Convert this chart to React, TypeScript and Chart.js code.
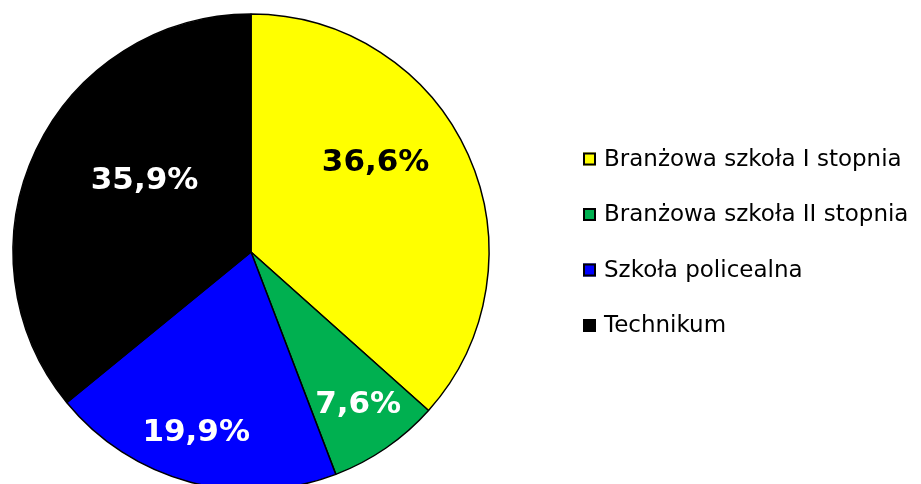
import React, { useEffect, useRef } from "react";
import { Chart, registerables } from "chart.js";

Chart.register(...registerables);

const categories = [
  "Branżowa szkoła I stopnia",
  "Branżowa szkoła II stopnia",
  "Szkoła policealna",
  "Technikum",
];
const values = [36.6, 7.6, 19.9, 35.9];
const valueLabels = ["36,6%", "7,6%", "19,9%", "35,9%"];
const colors = ["#FFFF00", "#00B050", "#0000FF", "#000000"];
const labelColors = ["#000000", "#FFFFFF", "#FFFFFF", "#FFFFFF"];

// label placement: [fraction of radius, angle shift in degrees]
const labelPlacement: [number, number][] = [
  [0.645, -11.6],
  [0.78, -0.7],
  [0.79, 2],
  [0.54, 8.7],
];

const sliceLabelsPlugin = {
  id: "sliceLabels",
  afterDatasetsDraw(chart: any) {
    const ctx = chart.ctx;
    const meta = chart.getDatasetMeta(0);
    ctx.save();
    ctx.font = "bold 31px 'DejaVu Sans'";
    ctx.textAlign = "center";
    ctx.textBaseline = "middle";
    meta.data.forEach((arc: any, i: number) => {
      const p = arc.getProps(["x", "y", "startAngle", "endAngle", "outerRadius"], true);
      const [frac, shift] = labelPlacement[i];
      const a = (p.startAngle + p.endAngle) / 2 + (shift * Math.PI) / 180;
      const r = p.outerRadius * frac;
      ctx.fillStyle = labelColors[i];
      ctx.fillText(valueLabels[i], p.x + r * Math.cos(a), p.y + r * Math.sin(a) + 1);
    });
    ctx.restore();
  },
};

const customLegendPlugin = {
  id: "customLegend",
  afterDraw(chart: any) {
    const ctx = chart.ctx;
    const x0 = 583;
    const y0 = 159;
    const step = 55.5;
    const box = 13;
    ctx.save();
    ctx.font = "23px 'DejaVu Sans'";
    ctx.textAlign = "left";
    ctx.textBaseline = "middle";
    categories.forEach((c, i) => {
      const cy = y0 + i * step;
      ctx.fillStyle = colors[i];
      ctx.fillRect(x0, cy - box / 2, box, box);
      ctx.strokeStyle = "#000";
      ctx.lineWidth = 2;
      ctx.strokeRect(x0 + 1, cy - box / 2 + 1, box - 2, box - 2);
      ctx.fillStyle = "#000";
      ctx.fillText(c, x0 + box + 8, cy + 1);
    });
    ctx.restore();
  },
};

export default function App() {
  const ref = useRef<HTMLCanvasElement>(null);
  useEffect(() => {
    document.body.style.overflow = "hidden";
    const chart = new Chart(ref.current as HTMLCanvasElement, {
      type: "pie",
      data: {
        labels: categories,
        datasets: [
          {
            data: values,
            backgroundColor: colors,
            borderColor: "#000000",
            borderWidth: 1.5,
            clip: false as any,
          },
        ],
      },
      options: {
        responsive: false,
        animation: false,
        radius: 238,
        layout: { padding: { left: 0, right: 419, top: 20, bottom: 0 } },
        plugins: {
          legend: { display: false },
          tooltip: { enabled: false },
        },
      } as any,
      plugins: [sliceLabelsPlugin, customLegendPlugin],
    });
    return () => chart.destroy();
  }, []);
  return (
    <div style={{ position: "fixed", left: 0, top: 0, width: 921, height: 484, background: "#fff" }}>
      <canvas ref={ref} width={921} height={484} style={{ display: "block" }} />
    </div>
  );
}
